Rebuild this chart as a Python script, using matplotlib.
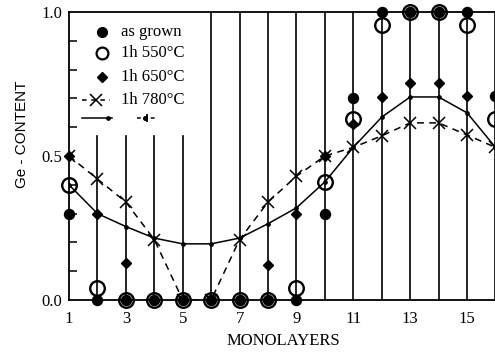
import numpy as np
import matplotlib
matplotlib.use("Agg")
import matplotlib.pyplot as plt
from matplotlib.lines import Line2D

# Ge content per monolayer for the different annealing conditions
monolayers = np.arange(1, 17)
as_grown = [0.30, 0.0, 0.0, 0.0, 0.0, 0.0, 0.0, 0.0, 0.0, 0.30, 0.70, 1.0, 1.0, 1.0, 1.0, 0.71]
anneal_550 = [0.40, 0.04, 0.0, 0.0, 0.0, 0.0, 0.0, 0.0, 0.04, 0.41, 0.63, 0.955, 1.0, 1.0, 0.955, 0.63]
anneal_650 = [0.50, 0.30, 0.13, 0.0, 0.0, 0.0, 0.0, 0.12, 0.30, 0.50, 0.61, 0.705, 0.755, 0.755, 0.71, 0.71]
anneal_780 = [0.50, 0.42, 0.34, 0.21, 0.0, 0.0, 0.21, 0.34, 0.43, 0.50, 0.53, 0.57, 0.615, 0.615, 0.573, 0.53]
model_curve = [0.40, 0.30, 0.255, 0.215, 0.195, 0.195, 0.215, 0.265, 0.32, 0.41, 0.53, 0.635, 0.705, 0.705, 0.65, 0.53]

xtick_labels = ["1", "3", "5", "7", "9", "11", "13", "15"]
ytick_labels = ["0.0", "0.5", "1.0"]
legend_labels = ["as grown", "1h 550°C", "1h 650°C", "1h 780°C"]

SERIF = "Liberation Serif"
W, H = 495, 352
fig = plt.figure(figsize=(W / 100, H / 100), dpi=100)
fig.patch.set_facecolor("white")

# axes box: x=1 at px 69, 28.43 px per monolayer, y from px 300 (0) to 12 (1)
px_per_ml = 28.43
x_lo, x_hi = 1.0, 16.3
left_px, bottom_px, top_px = 69, 300, 12
ax = fig.add_axes([left_px / W, (H - bottom_px) / H,
                   (x_hi - x_lo) * px_per_ml / W, (bottom_px - top_px) / H])
ax.set_xlim(x_lo, x_hi)
ax.set_ylim(0, 1.0)

for s in ["left", "bottom", "top"]:
    ax.spines[s].set_linewidth(1.3)
ax.spines["right"].set_visible(False)

# vertical grid lines at each monolayer; the legend interrupts the first few
for m in monolayers[1:]:
    top = 0.57 if m <= 5 else 1.0
    ax.plot([m, m], [0, top], color="black", lw=1.2, zorder=1)

lw = 1.1
ax.plot(monolayers, model_curve, "-", color="black", lw=lw, marker="o",
        markersize=2.4, zorder=2)
ax.plot(monolayers, anneal_780, color="black", lw=lw, linestyle=(0, (4.5, 3.5)),
        marker="x", markersize=8, markeredgewidth=1.1, zorder=3)
ax.plot(monolayers, anneal_550, "o", markerfacecolor="none", markeredgecolor="black",
        markeredgewidth=1.7, markersize=10.5, zorder=4, clip_on=False)
ax.plot(monolayers, as_grown, "o", color="black", markersize=7.2, zorder=5, clip_on=False)
ax.plot(monolayers, anneal_650, "D", color="black", markersize=5.6, zorder=5, clip_on=False)

# ticks
ax.set_xticks(np.arange(1, 16, 2))
ax.set_xticklabels(xtick_labels, fontfamily=SERIF, fontsize=12)
ax.tick_params(axis="x", length=0, pad=8)
ax.set_yticks([0.0, 0.5, 1.0])
ax.set_yticklabels(ytick_labels, fontfamily=SERIF, fontsize=12)
ax.set_yticks(np.round(np.arange(0.1, 1.0, 0.1), 2), minor=True)
ax.tick_params(axis="y", which="minor", direction="in", length=6, width=1.1)
ax.tick_params(axis="y", which="major", length=0, pad=5)

fig.text(283 / W, 1 - 341 / H, "MONOLAYERS", fontfamily=SERIF, fontsize=12,
         ha="center", va="center")
fig.text(22 / W, 1 - 134 / H, "Ge - CONTENT", fontfamily="Liberation Sans",
         fontsize=11, rotation=90, ha="center", va="center")

# hand-placed legend
def fx(px):
    return px / W

def fy(py):
    return 1 - py / H

rows = [32, 53, 77, 100]
marker_px = 102
fig.add_artist(Line2D([fx(marker_px)], [fy(rows[0])], marker="o", color="black",
                      markersize=7, linestyle="none"))
fig.add_artist(Line2D([fx(marker_px)], [fy(rows[1])], marker="o", markerfacecolor="none",
                      markeredgecolor="black", markeredgewidth=1.6, markersize=8.5,
                      linestyle="none"))
fig.add_artist(Line2D([fx(marker_px)], [fy(rows[2])], marker="D", color="black",
                      markersize=5.6, linestyle="none"))
fig.add_artist(Line2D([fx(82), fx(110)], [fy(rows[3])] * 2, color="black", lw=1.1,
                      linestyle=(0, (3, 3))))
fig.add_artist(Line2D([fx(96)], [fy(rows[3])], marker="x", color="black",
                      markersize=8, markeredgewidth=1.1, linestyle="none"))
for r, lab in zip(rows, legend_labels):
    fig.text(fx(121), fy(r), lab, fontfamily=SERIF, fontsize=12, va="center", ha="left")

# unlabeled last legend row
fig.add_artist(Line2D([fx(82), fx(112)], [fy(118)] * 2, color="black", lw=1.1))
fig.add_artist(Line2D([fx(108)], [fy(118)], marker="o", color="black", markersize=2.4,
                      linestyle="none"))
fig.add_artist(Line2D([fx(137), fx(157)], [fy(118)] * 2, color="black", lw=1.1,
                      linestyle=(0, (2.5, 2))))
fig.add_artist(Line2D([fx(147)], [fy(118)], marker="|", color="black", markersize=6,
                      markeredgewidth=1.3, linestyle="none"))
fig.add_artist(Line2D([fx(145)], [fy(118)], marker="o", color="black", markersize=2.6,
                      linestyle="none"))

fig.savefig("out.png", dpi=100, facecolor="white")
